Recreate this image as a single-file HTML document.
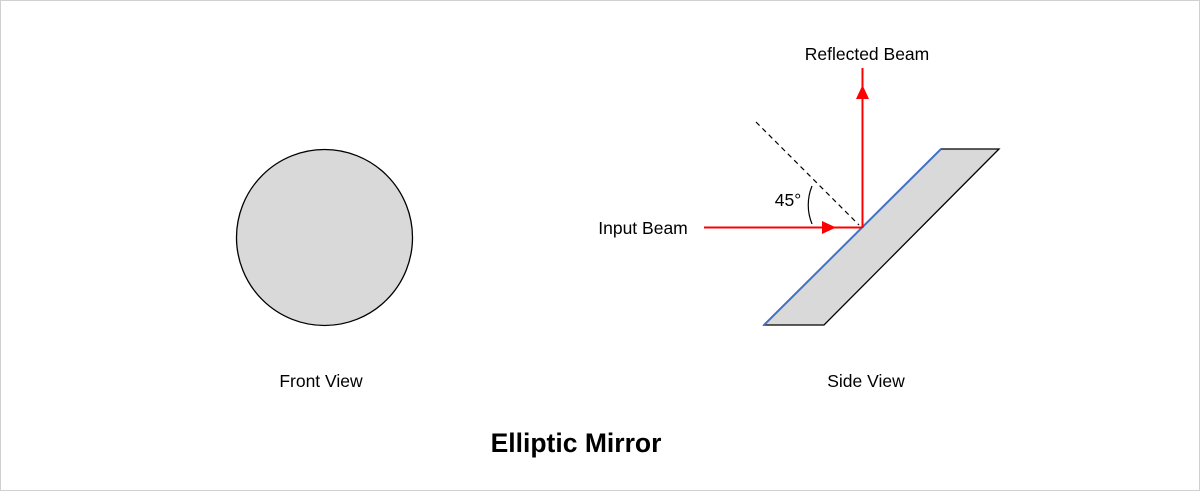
<!DOCTYPE html>
<html><head><style>
html,body{margin:0;padding:0;background:#fff}
svg{display:block}
text{font-family:"Liberation Sans","DejaVu Sans",sans-serif;fill:#000}
</style></head><body>
<svg width="1200" height="491" viewBox="0 0 1200 491">
<rect x="0.5" y="0.5" width="1199" height="490" fill="#fff" stroke="#d0d0d0"/>
<circle cx="324.5" cy="237.5" r="88" fill="#d9d9d9" stroke="#000" stroke-width="1.3"/>
<text x="321" y="387" font-size="17.5" text-anchor="middle">Front View</text>
<polygon points="941,149 999,149 824,325 764,325" fill="#d9d9d9" stroke="#000" stroke-width="1.3"/>
<line x1="764" y1="325" x2="941" y2="149" stroke="#4472c4" stroke-width="2"/>
<line x1="756" y1="122" x2="859" y2="225" stroke="#000" stroke-width="1.2" stroke-dasharray="5,4"/>
<path d="M812,186 A50,50 0 0 0 812,224" fill="none" stroke="#000" stroke-width="1.2"/>
<line x1="704" y1="227.5" x2="862" y2="227.5" stroke="#f00" stroke-width="2"/>
<polygon points="822,221 836,227.5 822,234" fill="#f00"/>
<line x1="862.5" y1="228" x2="862.5" y2="68" stroke="#f00" stroke-width="2"/>
<polygon points="856,99 862.5,85 869,99" fill="#f00"/>
<text x="788" y="206" font-size="17.5" text-anchor="middle">45°</text>
<text x="643" y="234" font-size="17.5" text-anchor="middle">Input Beam</text>
<text x="867" y="60" font-size="17.5" text-anchor="middle">Reflected Beam</text>
<text x="866" y="387" font-size="17.5" text-anchor="middle">Side View</text>
<text x="576" y="452" font-size="26.5" font-weight="bold" text-anchor="middle">Elliptic Mirror</text>
</svg>
</body></html>
